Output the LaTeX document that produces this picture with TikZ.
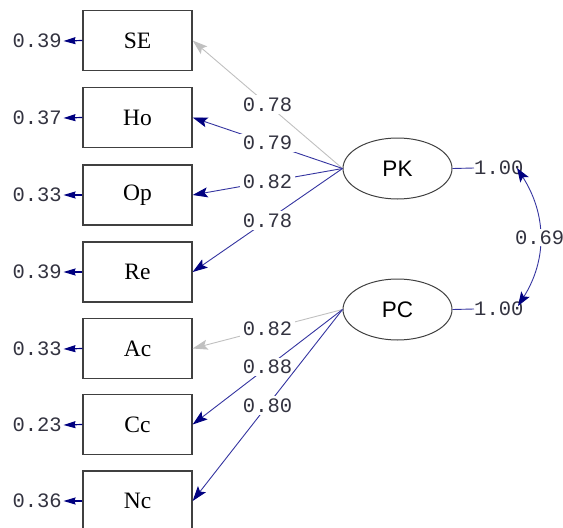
\documentclass[tikz,border=0pt]{standalone}
\usepackage{fontspec}
\setmainfont{Liberation Serif}
\newfontfamily\monof{Liberation Mono}
\newfontfamily\sansf{Liberation Sans}
\usetikzlibrary{arrows.meta,shapes.geometric}
\definecolor{lineblue}{HTML}{3434A0}
\definecolor{navyc}{HTML}{000080}
\definecolor{lightg}{HTML}{C0C0C0}
\definecolor{txtc}{HTML}{333340}
\definecolor{boxc}{HTML}{404040}
\begin{document}
\begin{tikzpicture}[x=1pt,y=-1pt,
  obsbox/.style={draw=boxc,line width=1.3pt,minimum width=109pt,minimum height=60pt,inner sep=0pt,font=\fontsize{23.5}{23.5}\selectfont},
  latent/.style={ellipse,draw=boxc,line width=1pt,minimum width=109pt,minimum height=61pt,inner sep=0pt,font=\sansf\fontsize{22.5}{22.5}\selectfont},
  num/.style={font=\monof\fontsize{20.5}{20.5}\selectfont,text=txtc,inner sep=0pt},
  lab/.style={num,fill=white,inner sep=2.5pt},
  load/.style={draw=lineblue,line width=0.9pt,-{Stealth[length=15pt,width=10pt,inset=3pt,color=navyc]}},
  loadg/.style={draw=lightg,line width=0.9pt,-{Stealth[length=15pt,width=10pt,inset=3pt]}},
  errarr/.style={draw=navyc,line width=1.2pt,-{Stealth[length=12pt,width=7pt,inset=1pt]}},
  varline/.style={draw=lineblue,line width=0.9pt},
  covarr/.style={draw=lineblue,line width=0.9pt,{Stealth[length=14pt,width=10pt,inset=3pt,color=navyc]}-{Stealth[length=14pt,width=10pt,inset=3pt,color=navyc]}}
]
\useasboundingbox (0,0) rectangle (563,528);
% observed variables
\node[obsbox] (SE) at (137.5,40.5) {SE};
\node[obsbox] (Ho) at (137.5,117.5) {Ho};
\node[obsbox] (Op) at (137.5,195) {Op};
\node[obsbox] (Re) at (137.5,272) {Re};
\node[obsbox] (Ac) at (137.5,348.5) {Ac};
\node[obsbox] (Cc) at (137.5,424.5) {Cc};
\node[obsbox] (Nc) at (137.5,501) {Nc};
% error variances
\node[num,anchor=east] (eSE) at (62,41) {0.39};
\node[num,anchor=east] (eHo) at (62,118) {0.37};
\node[num,anchor=east] (eOp) at (62,195) {0.33};
\node[num,anchor=east] (eRe) at (62,272) {0.39};
\node[num,anchor=east] (eAc) at (62,349) {0.33};
\node[num,anchor=east] (eCc) at (62,425) {0.23};
\node[num,anchor=east] (eNc) at (62,501) {0.36};
\foreach \b in {SE,Ho,Op,Re,Ac,Cc,Nc}{
  \draw[errarr] (\b.west) -- ([xshift=1.5pt]e\b.east);
}
% latent variables
\node[latent] (PK) at (397.5,168.5) {PK};
\node[latent] (PC) at (397.5,309.5) {PC};
% loadings
\draw[loadg] (PK.west) -- node[lab,pos=0.5] {0.78} (SE.east);
\draw[load] (PK.west) -- node[lab,pos=0.5] {0.79} (Ho.east);
\draw[load] (PK.west) -- node[lab,pos=0.5] {0.82} (Op.east);
\draw[load] (PK.west) -- node[lab,pos=0.5] {0.78} (Re.east);
\draw[loadg] (PC.west) -- node[lab,pos=0.5] {0.82} (Ac.east);
\draw[load] (PC.west) -- node[lab,pos=0.5] {0.88} (Cc.east);
\draw[load] (PC.west) -- node[lab,pos=0.5] {0.80} (Nc.east);
% latent variances
\node[num,anchor=west] (vK) at (474,168) {1.00};
\node[num,anchor=west] (vC) at (474,309) {1.00};
\draw[varline] (PK.east) -- (vK.west);
\draw[varline] (PC.east) -- (vC.west);
% covariance
\coordinate (cK) at (517,168);
\coordinate (cC) at (518,306);
\draw[covarr] (cK) .. controls (547,215) and (547,260) .. node[lab,pos=0.5,inner sep=1.5pt] {0.69} (cC);
\end{tikzpicture}
\end{document}
